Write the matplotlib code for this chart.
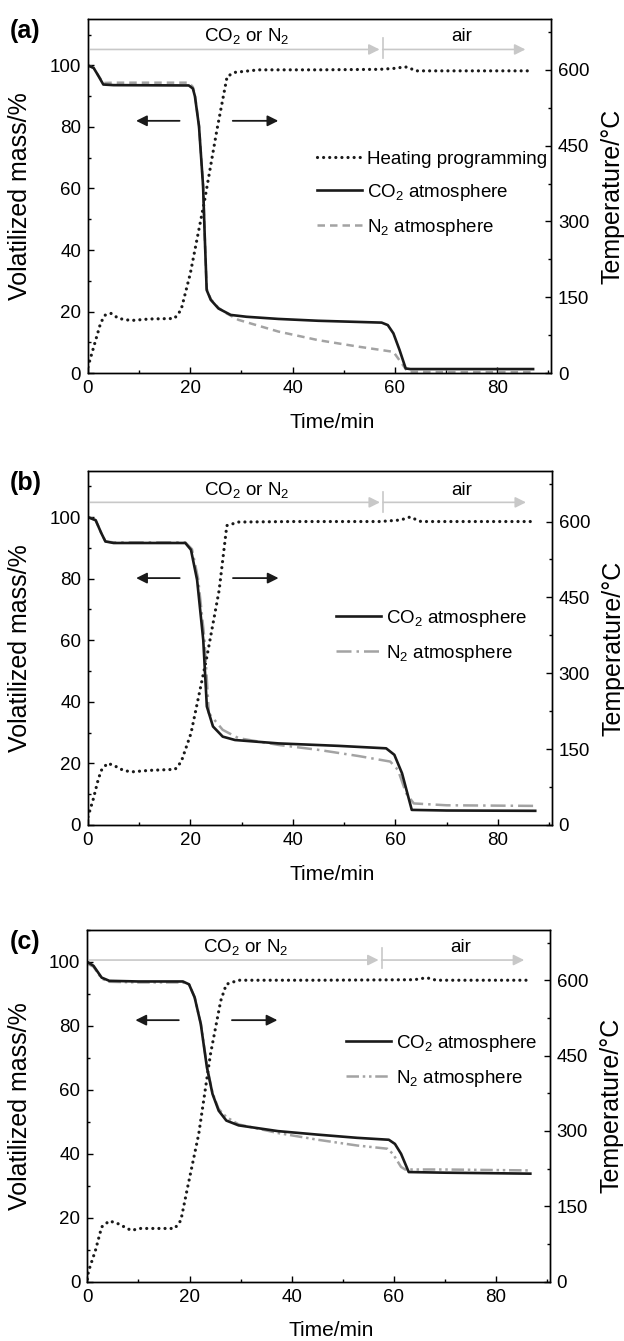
import matplotlib
matplotlib.use('Agg')
import matplotlib.pyplot as plt
from matplotlib.ticker import MultipleLocator

plt.rcParams['font.family'] = ['Liberation Sans', 'DejaVu Sans']
plt.rcParams['mathtext.default'] = 'regular'

# ---- panel (a) ----
time_temp_a = [0, 0.5, 1.5, 2.5, 3.4, 4.5, 6.0, 8.4, 12, 16.9, 18.2, 20.0, 22.8, 25.2,
               27.2, 28.7, 33.3, 45, 57, 60, 62, 63, 64, 70, 80, 86.5]
temp_a = [12, 30, 65, 100, 115, 118, 108, 104, 107, 108, 125, 197, 342, 481,
          587, 595, 600, 600, 601, 603, 606, 603, 598, 598, 598, 598]
time_co2_a = [0, 1.1, 1.9, 3.0, 5, 19.7, 20.5, 20.9, 21.7, 22.5, 22.8, 23.2, 24.0, 25.5, 27.9,
              31, 37.2, 45, 57.4, 58.6, 59.7, 60.9, 62.1, 63, 87]
mass_co2_a = [100, 99.2, 97, 93.8, 93.6, 93.5, 92.5, 90, 80.2, 60.7, 45.5, 27, 23.8, 21, 18.9,
              18.3, 17.6, 17, 16.4, 15.6, 12.9, 7.5, 1.5, 1.3, 1.3]
time_n2_a = [0, 1.1, 1.9, 3.0, 5, 19.7, 20.5, 20.9, 21.7, 22.5, 22.8, 23.2, 24.0, 25.5, 27.1,
             29.4, 37.2, 45, 52.8, 59.7, 61.3, 62.5, 70, 87]
mass_n2_a = [100, 99.2, 97, 94.3, 94.4, 94.4, 93, 90.5, 80.5, 61, 45.5, 27.5, 24, 21.2, 19.4,
             17.3, 13.5, 10.7, 8.6, 6.9, 3.2, 0.4, 0.3, 0.3]

# ---- panel (b) ----
time_temp_b = [0, 1, 2, 2.6, 3.8, 5.0, 6.9, 8.5, 12, 17.0, 18.2, 20.1, 23.2, 25.6,
               27.1, 29.4, 40, 57, 61, 62.9, 64, 65, 75, 87.3]
temp_b = [16, 50, 90, 108, 122, 118, 108, 105, 108, 110, 125, 181, 332, 464,
          592, 599, 600, 600, 603, 609, 604, 600, 600, 600]
time_co2_b = [0, 1.5, 2.6, 3.4, 5, 19, 20.1, 21.3, 22.5, 23.2, 24.4, 26.3, 28.7, 37.2,
              48.9, 58.2, 59.8, 61.3, 63.2, 70, 87.3]
mass_co2_b = [100, 99, 94.8, 92.1, 91.6, 91.6, 89.4, 79.6, 60.1, 38.5, 32, 28.7, 27.6, 26.5,
              25.7, 24.9, 22.8, 16.8, 4.9, 4.7, 4.6]
time_n2_b = [0, 1.5, 2.6, 3.4, 5, 19, 20.3, 21.5, 22.7, 23.6, 26.3, 29.4, 37.2, 45,
             52.8, 59, 60.5, 62.1, 63.6, 70, 87.3]
mass_n2_b = [100, 99, 94.8, 92.1, 91.8, 91.8, 89.6, 80, 61, 36.3, 30.9, 28.2, 26, 24.4,
             22.4, 20.6, 17.9, 10.3, 7, 6.4, 6.2]

# ---- panel (c) ----
time_temp_c = [0, 0.2, 1.6, 2.8, 4.3, 5.9, 8.6, 10.2, 17.1, 18.3, 19.5, 21.8, 24.1, 26.1,
               27.2, 29.6, 45, 64, 66.4, 68.3, 86.7]
temp_c = [5, 20, 63, 109, 121, 116, 102, 106, 106, 122, 182, 294, 453, 559,
          592, 600, 600, 601, 605, 600, 600]
time_co2_c = [0, 1.2, 2.8, 4.3, 10, 18.7, 19.9, 21, 22.2, 23.4, 24.5, 25.7, 27.2, 29.6,
              37.3, 45.1, 52.8, 59, 60.2, 61.4, 62.9, 70, 86.7]
mass_co2_c = [100, 98.8, 95.1, 94.1, 93.9, 93.9, 93, 88.9, 80.6, 67, 58.7, 53.5, 50.4, 48.9,
              47.1, 46, 45, 44.4, 43.1, 40, 34.3, 34.1, 33.8]
time_n2_c = [0, 1.2, 2.8, 4.3, 10, 18.7, 19.9, 21, 22.2, 23.4, 24.5, 25.7, 27.2, 29.6,
             37.3, 45.1, 52.8, 58.7, 59.8, 61.4, 62.2, 70, 86.7]
mass_n2_c = [99.5, 98.5, 94.8, 93.8, 93.6, 93.6, 93, 89, 80.8, 67.5, 59, 54, 51.5, 49.2,
             46.5, 44.4, 42.6, 41.6, 40, 35.9, 35.1, 35.1, 34.8]

BLACK = '#1a1a1a'
GRAY = '#a3a3a3'
LIGHT = '#c8c8c8'


def draw_panel(rect, label, t_temp, temp, t_co2, co2, t_n2, n2, n2_ls, ymax,
               heating_legend, leg_anchor, gas_y, gas_text_y, sep, arrow_y):
    ax = fig.add_axes(rect)
    ax2 = ax.twinx()

    co2_line, = ax.plot(t_co2, co2, color=BLACK, lw=1.9, label='CO$_2$ atmosphere', zorder=3)
    n2_line, = ax.plot(t_n2, n2, color=GRAY, lw=1.8, ls=n2_ls, label='N$_2$ atmosphere', zorder=2)
    heat_line, = ax2.plot(t_temp, temp, color=BLACK, lw=2.3, ls=(0, (0.01, 1.9)),
                          dash_capstyle='round', label='Heating programming')

    ax.set_xlim(0, 90.5)
    ax.set_ylim(0, ymax)
    ax2.set_ylim(0, 700)

    ax.xaxis.set_major_locator(MultipleLocator(20))
    ax.xaxis.set_minor_locator(MultipleLocator(10))
    ax.yaxis.set_major_locator(MultipleLocator(20))
    ax.yaxis.set_minor_locator(MultipleLocator(10))
    ax2.yaxis.set_major_locator(MultipleLocator(150))
    ax2.yaxis.set_minor_locator(MultipleLocator(75))

    for a in (ax, ax2):
        a.tick_params(which='major', direction='in', length=4.5, width=1, labelsize=13.5, pad=5)
        a.tick_params(which='minor', direction='in', length=2.5, width=1)
        for s in a.spines.values():
            s.set_linewidth(1.0)

    ax.set_xlabel('Time/min', fontsize=15)
    ax.set_ylabel('Volatilized mass/%', fontsize=18)
    ax2.set_ylabel('Temperature/°C', fontsize=18)
    ax.xaxis.set_label_coords(0.527, -0.112)
    ax.yaxis.set_label_coords(-0.12, 0.5)
    ax2.yaxis.set_label_coords(1.108, 0.5)

    ax.text(-0.168, 1.0, label, transform=ax.transAxes, fontsize=18,
            fontweight='bold', va='top', ha='left')

    # gas atmosphere arrows
    arr = dict(arrowstyle='-|>', color=LIGHT, lw=1.2, mutation_scale=16, shrinkA=0, shrinkB=0)
    ax.annotate('', xy=(57.0, gas_y), xytext=(0, gas_y), arrowprops=arr)
    ax.annotate('', xy=(85.5, gas_y), xytext=(57.6, gas_y), arrowprops=arr)
    ax.plot([57.6, 57.6], sep, color=LIGHT, lw=1.2, clip_on=False)
    ax.text(31, gas_text_y, 'CO$_2$ or N$_2$', ha='center', va='baseline', fontsize=13.5)
    ax.text(73, gas_text_y, 'air', ha='center', va='baseline', fontsize=13.5)

    # axis direction arrows
    blk = dict(arrowstyle='-|>', color=BLACK, lw=1.3, mutation_scale=16, shrinkA=0, shrinkB=0)
    ax.annotate('', xy=(9.4, arrow_y), xytext=(17.9, arrow_y), arrowprops=blk)
    ax.annotate('', xy=(37.2, arrow_y), xytext=(28.3, arrow_y), arrowprops=blk)

    handles = [co2_line, n2_line]
    if heating_legend:
        handles = [heat_line] + handles
    ax2.legend(handles=handles, loc='center left', bbox_to_anchor=leg_anchor,
               frameon=False, fontsize=13.5, borderaxespad=0, borderpad=0,
               handlelength=2.4, handletextpad=0.3, labelspacing=0.75)


fig = plt.figure(figsize=(6.24, 13.41), dpi=100)

draw_panel([0.141, 0.7218, 0.742, 0.2638], '(a)', time_temp_a, temp_a,
           time_co2_a, mass_co2_a, time_n2_a, mass_n2_a, (0, (3, 2)), 115,
           True, (0.494, 0.506), 105.2, 107.9, [102.3, 108.8], 82)
draw_panel([0.141, 0.3848, 0.743, 0.264], '(b)', time_temp_b, temp_b,
           time_co2_b, mass_co2_b, time_n2_b, mass_n2_b, (0, (6, 2, 1, 2)), 115,
           False, (0.534, 0.534), 104.8, 107.3, [101.8, 108.3], 80.2)
draw_panel([0.14, 0.0442, 0.741, 0.2623], '(c)', time_temp_c, temp_c,
           time_co2_c, mass_co2_c, time_n2_c, mass_n2_c, (0, (5, 1.5, 1, 1.5, 1, 1.5)), 110,
           False, (0.559, 0.628), 100.6, 103.2, [98, 104.5], 81.8)

fig.savefig('out.png', dpi=100)
